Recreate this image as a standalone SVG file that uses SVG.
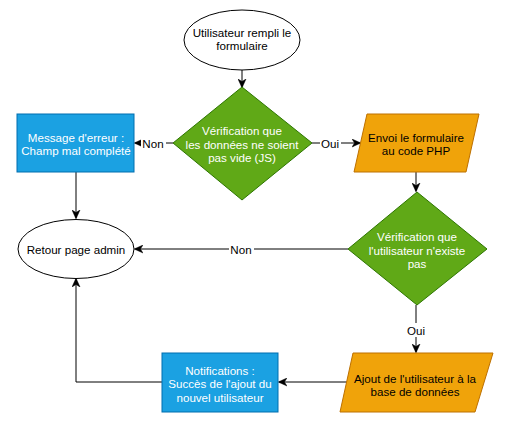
<svg xmlns="http://www.w3.org/2000/svg" width="509" height="425" viewBox="0 0 509 425">
  <style>
    text { font-family: "Liberation Sans", Arial, sans-serif; font-size: 11.6px; text-anchor: middle; dominant-baseline: central; }
    .white { fill: #ffffff; }
    .dark { fill: #000000; }
    .term { fill: #ffffff; stroke: #000000; stroke-width: 1; }
    .proc { fill: #1ba1e2; stroke: #006eaf; stroke-width: 1; }
    .dec { fill: #60a917; stroke: #2d7600; stroke-width: 1; }
    .io { fill: #f0a30a; stroke: #bd7000; stroke-width: 1; }
    .edge { fill: none; stroke: #000000; stroke-width: 1; marker-end: url(#arrow); }
    .lbl-bg { fill: #ffffff; }
  </style>
  <defs>
    <marker id="arrow" markerUnits="userSpaceOnUse" viewBox="0 0 10 10" refX="9" refY="5" markerWidth="9" markerHeight="9" orient="auto">
      <path d="M0,0.5 L10,5 L0,9.5 L3,5 Z" fill="#000000" stroke="#000000" stroke-width="0.5"/>
    </marker>
  </defs>

  <rect width="509" height="425" fill="#ffffff"/>

  <!-- connectors -->
  <g id="connectors">
    <path class="edge" d="M242,70 L242,87"/>
    <path class="edge" d="M173,143 L135,143"/>
    <path class="edge" d="M312,143 L360,143"/>
    <path class="edge" d="M76,172 L76,218"/>
    <path class="edge" d="M416,172 L416,191"/>
    <path class="edge" d="M348,249 L135,249"/>
    <path class="edge" d="M416,305 L416,352"/>
    <path class="edge" d="M347,382 L279,382"/>
    <path class="edge" d="M162,382 L76,382 L76,279"/>

    <rect class="lbl-bg" x="141" y="136" width="25" height="14"/>
    <text class="dark" x="153" y="143">Non</text>
    <rect class="lbl-bg" x="320" y="136" width="21" height="14"/>
    <text class="dark" x="330" y="143">Oui</text>
    <rect class="lbl-bg" x="229" y="242" width="25" height="14"/>
    <text class="dark" x="241" y="249">Non</text>
    <rect class="lbl-bg" x="406" y="323" width="21" height="14"/>
    <text class="dark" x="416" y="330">Oui</text>
  </g>

  <g id="start">
    <ellipse class="term" cx="242" cy="40" rx="58" ry="30"/>
    <text class="dark" x="242" y="32">Utilisateur rempli le</text>
    <text class="dark" x="242" y="45">formulaire</text>
  </g>

  <g id="check-js">
    <polygon class="dec" points="242,87 312,143 242,200 173,143"/>
    <text class="white" x="242" y="130">Vérification que</text>
    <text class="white" x="242" y="144">les données ne soient</text>
    <text class="white" x="242" y="157">pas vide (JS)</text>
  </g>

  <g id="error-message">
    <rect class="proc" x="17" y="114" width="117" height="58"/>
    <text class="white" x="76" y="137">Message d'erreur :</text>
    <text class="white" x="76" y="150">Champ mal complété</text>
  </g>

  <g id="send-php">
    <polygon class="io" points="367,114 479,114 466,172 354,172"/>
    <text class="dark" x="416" y="137">Envoi le formulaire</text>
    <text class="dark" x="416" y="150">au code PHP</text>
  </g>

  <g id="back-admin">
    <ellipse class="term" cx="76" cy="249" rx="58" ry="29.5"/>
    <text class="dark" x="76" y="249">Retour page admin</text>
  </g>

  <g id="check-user">
    <polygon class="dec" points="417,192 487,249 417,305 348,249"/>
    <text class="white" x="417" y="236">Vérification que</text>
    <text class="white" x="417" y="250">l'utilisateur n'existe</text>
    <text class="white" x="417" y="263">pas</text>
  </g>

  <g id="add-user">
    <polygon class="io" points="353,353 493,353 475,412 340,412"/>
    <text class="dark" x="415" y="378">Ajout de l'utilisateur à la</text>
    <text class="dark" x="415" y="391">base de données</text>
  </g>

  <g id="notifications">
    <rect class="proc" x="162" y="353" width="116" height="59"/>
    <text class="white" x="220" y="370">Notifications :</text>
    <text class="white" x="220" y="383">Succès de l'ajout du</text>
    <text class="white" x="220" y="397">nouvel utilisateur</text>
  </g>
</svg>
